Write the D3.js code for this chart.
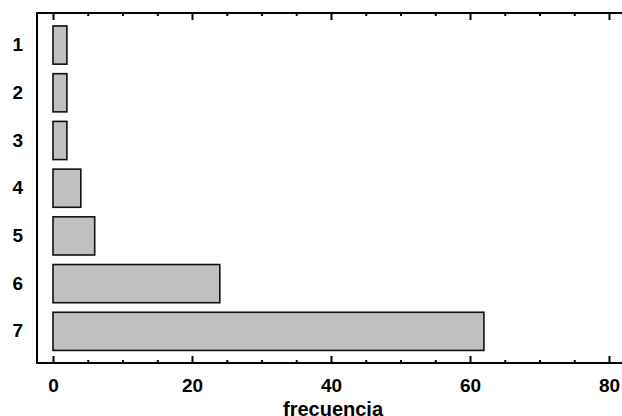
<!DOCTYPE html>
<html>
<head>
<meta charset="utf-8">
<script src="https://cdn.jsdelivr.net/npm/d3@7"></script>
<style>
  body { margin: 0; background: #fff; }
  svg { display: block; font-family: "Liberation Sans", Arial, sans-serif; }
</style>
</head>
<body>
<div class="chart"></div>
<script>
const categories = ["1", "2", "3", "4", "5", "6", "7"];
const frecuencia = [2, 2, 2, 4, 6, 24, 62];
const majorTicks = [0, 20, 40, 60, 80];
const minorTicks = d3.range(0, 81, 5);

const width = 622;
const height = 416;

const svg = d3.select('.chart')
	.append('svg')
	.attr('width', width)
	.attr('height', height);

const frameTop = 13, frameBottom = 363, frameLeft = 37;

const x = d3.scaleLinear().domain([0, 80]).range([53, 609]);
const y = d3.scaleBand()
	.domain(categories)
	.range([21.2, 355.2])
	.paddingInner(0.2)
	.paddingOuter(0.1);

const data = categories.map((c, i) => ({cat: c, value: frecuencia[i]}));

// bars
svg.selectAll("rect.bar")
	.data(data)
	.enter()
	.append("rect")
	.attr("class", "bar")
	.attr("x", x(0))
	.attr("y", d => y(d.cat))
	.attr("width", d => x(d.value) - x(0))
	.attr("height", y.bandwidth())
	.attr("fill", "#c0c0c0")
	.attr("stroke", "#111")
	.attr("stroke-width", 1.6);

// bottom axis: major ticks (with labels) then minor ticks
svg.append("g")
	.attr("transform", `translate(0,${frameBottom})`)
	.call(d3.axisBottom(x).tickValues(majorTicks).tickSizeInner(-7).tickSizeOuter(0).tickPadding(16))
	.call(g => g.select(".domain").remove())
	.call(g => g.selectAll("line").attr("stroke", "#000").attr("stroke-width", 2))
	.call(g => g.selectAll("text")
		.attr("font-size", "19px")
		.attr("font-weight", "bold")
		.attr("font-family", "Liberation Sans, Arial, sans-serif")
		.attr("fill", "#000"));

svg.append("g")
	.attr("transform", `translate(0,${frameBottom})`)
	.call(d3.axisBottom(x).tickValues(minorTicks.filter(v => v % 20)).tickSizeInner(-3).tickSizeOuter(0).tickFormat(""))
	.call(g => g.select(".domain").remove())
	.call(g => g.selectAll("line").attr("stroke", "#000").attr("stroke-width", 2));

// top ticks
svg.append("g")
	.attr("transform", `translate(0,${frameTop})`)
	.call(d3.axisTop(x).tickValues(majorTicks).tickSizeInner(-7).tickSizeOuter(0).tickFormat(""))
	.call(g => g.select(".domain").remove())
	.call(g => g.selectAll("line").attr("stroke", "#000").attr("stroke-width", 2));

svg.append("g")
	.attr("transform", `translate(0,${frameTop})`)
	.call(d3.axisTop(x).tickValues(minorTicks.filter(v => v % 20)).tickSizeInner(-3).tickSizeOuter(0).tickFormat(""))
	.call(g => g.select(".domain").remove())
	.call(g => g.selectAll("line").attr("stroke", "#000").attr("stroke-width", 2));

// left axis labels
svg.append("g")
	.attr("transform", `translate(${frameLeft},0)`)
	.call(d3.axisLeft(y).tickSize(0).tickPadding(14))
	.call(g => g.select(".domain").remove())
	.call(g => g.selectAll("text")
		.attr("font-size", "19px")
		.attr("font-weight", "bold")
		.attr("font-family", "Liberation Sans, Arial, sans-serif")
		.attr("fill", "#000"));

// frame (runs off the right edge)
svg.append("path")
	.attr("d", `M${width + 10},${frameTop}H${frameLeft}V${frameBottom}H${width + 10}`)
	.attr("fill", "none")
	.attr("stroke", "#000")
	.attr("stroke-width", 2);

// axis title
svg.append("text")
	.attr("x", 333)
	.attr("y", 416)
	.attr("text-anchor", "middle")
	.attr("font-size", "20px")
	.attr("font-weight", "bold")
	.text("frecuencia");
</script>
</body>
</html>
